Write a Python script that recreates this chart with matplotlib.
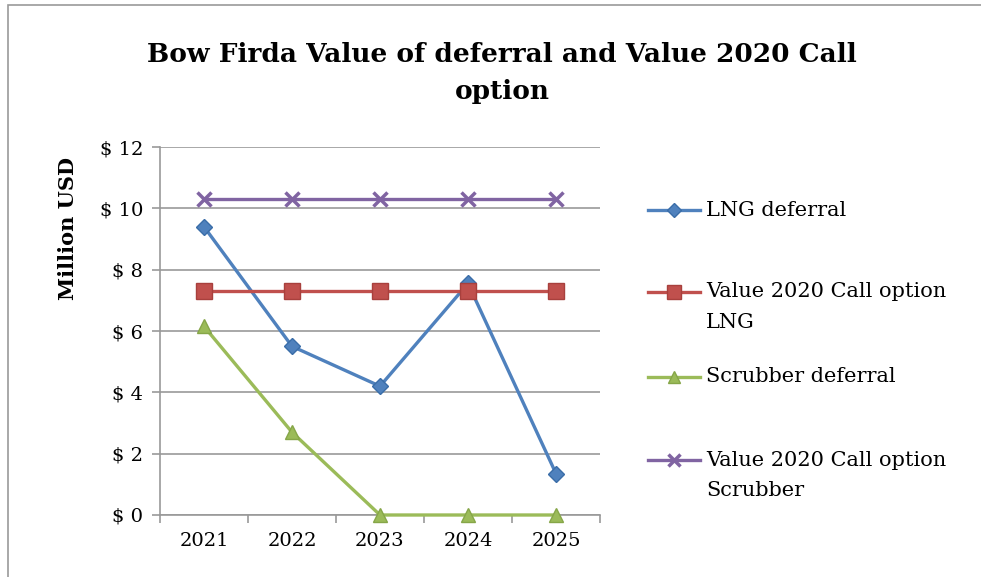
import matplotlib.pyplot as plt
from matplotlib.lines import Line2D
from matplotlib.patches import Rectangle

years = ['2021', '2022', '2023', '2024', '2025']
lng_deferral = [9.4, 5.5, 4.2, 7.55, 1.35]
call_lng = [7.3, 7.3, 7.3, 7.3, 7.3]
scrubber_deferral = [6.15, 2.7, 0.0, 0.0, 0.0]
call_scrubber = [10.3, 10.3, 10.3, 10.3, 10.3]
yticks = [0, 2, 4, 6, 8, 10, 12]
ytick_labels = ['$ 0', '$ 2', '$ 4', '$ 6', '$ 8', '$ 10', '$ 12']

labels = ['LNG deferral', 'Value 2020 Call option\nLNG', 'Scrubber deferral',
          'Value 2020 Call option\nScrubber']
colors = ['#4F81BD', '#C0504D', '#9BBB59', '#8064A2']
edges = ['#3A6DA8', '#A8403D', '#86A648', '#8064A2']
markers = ['D', 's', '^', 'x']
msizes = [8, 11, 10, 10]
series = [lng_deferral, call_lng, scrubber_deferral, call_scrubber]

plt.rcParams['font.family'] = ['DejaVu Serif']
W, H = 981, 577
fig = plt.figure(figsize=(W / 100, H / 100), dpi=100)
fig.patches.append(Rectangle((8 / W, -0.1), 1.2, 1 - 5 / H + 0.1, transform=fig.transFigure,
                             fill=False, edgecolor='#9a9a9a', linewidth=1.2))

ax = fig.add_axes([160 / W, 1 - 515 / H, 440 / W, 368 / H])
x = list(range(len(years)))
order = [1, 3, 2, 0]
for i in order:
    ax.plot(x, series[i], color=colors[i], linewidth=2.4, marker=markers[i],
            markersize=msizes[i], markerfacecolor=colors[i], markeredgecolor=edges[i],
            markeredgewidth=2.5 if markers[i] == 'x' else 1.0, zorder=3 + i,
            clip_on=False)

ax.set_xlim(-0.5, 4.5)
ax.set_ylim(0, 12)
ax.set_yticks(yticks)
ax.set_yticklabels(ytick_labels, fontsize=14)
ax.set_xticks(x)
ax.set_xticklabels(years, fontsize=14)
ax.set_xticks([i - 0.5 for i in range(6)], minor=True)
ax.tick_params(axis='x', which='major', length=0, pad=12)
ax.tick_params(axis='x', which='minor', length=6, color='#999999', width=1.2)
ax.tick_params(axis='y', length=6, color='#999999', width=1.2, pad=6)
ax.grid(axis='y', color='#999999', linewidth=1.2)
ax.set_axisbelow(True)
for s in ['top', 'right']:
    ax.spines[s].set_visible(False)
for s in ['left', 'bottom']:
    ax.spines[s].set_color('#999999')
    ax.spines[s].set_linewidth(1.2)

fig.text(502 / W, 1 - 55 / H, 'Bow Firda Value of deferral and Value 2020 Call',
         ha='center', va='center', fontsize=19, fontweight='bold')
fig.text(502 / W, 1 - 92 / H, 'option', ha='center', va='center', fontsize=19,
         fontweight='bold')
fig.text(68 / W, 1 - 228 / H, 'Million USD', rotation=90, ha='center', va='center',
         fontsize=15, fontweight='bold')

# legend drawn by hand so handles line up with the first text line
leg_y = [210, 292, 377, 460]
line_gap = 30
for i, yy in enumerate(leg_y):
    yf = 1 - yy / H
    fig.add_artist(Line2D([648 / W, 700 / W], [yf, yf], color=colors[i], linewidth=2.4,
                          transform=fig.transFigure))
    fig.add_artist(Line2D([674 / W], [yf], marker=markers[i], markersize=msizes[i] - 1,
                          color=colors[i], markerfacecolor=colors[i],
                          markeredgecolor=edges[i],
                          markeredgewidth=2.5 if markers[i] == 'x' else 1.0,
                          transform=fig.transFigure))
    for j, part in enumerate(labels[i].split('\n')):
        fig.text(706 / W, 1 - (yy + j * line_gap) / H, part, ha='left', va='center',
                 fontsize=15)

fig.savefig('out.png', dpi=100)
